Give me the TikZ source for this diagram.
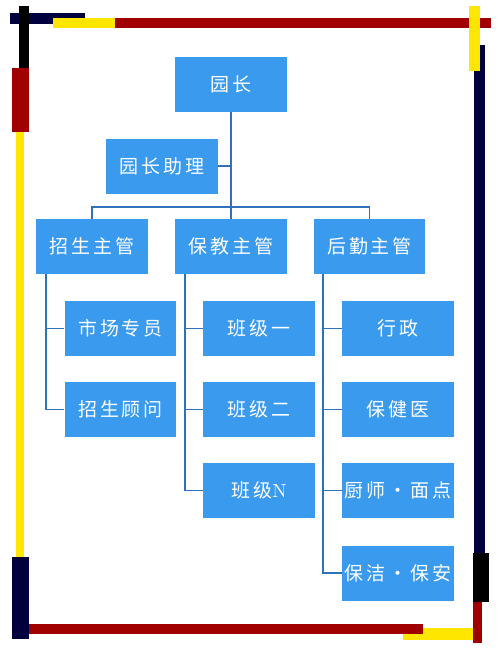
\documentclass[tikz,border=0pt]{standalone}
\usepackage{fontspec}
\newfontfamily\cjk[LetterSpace=15]{Noto Sans CJK SC}
\usetikzlibrary{positioning}
\definecolor{boxblue}{HTML}{3A9AEE}
\definecolor{linkblue}{HTML}{2E72BC}
\definecolor{framered}{HTML}{A00000}
\definecolor{frameyellow}{HTML}{FFE600}
\definecolor{framenavy}{HTML}{00003F}

\begin{document}
\begin{tikzpicture}[x=0.02cm, y=-0.02cm,
		box/.style={fill=boxblue, text=white, inner sep=0pt, minimum width=2.24cm, minimum height=1.1cm, font=\cjk\fontsize{10.8}{13}\selectfont},
		link/.style={draw=linkblue, line width=1.1pt},
		]
		
		\useasboundingbox (0,0) rectangle (500,654);
		
		\fill[framenavy] (10,13) rectangle (85,24);
		\fill[frameyellow] (53,18) rectangle (115,28);
		\fill[framered] (115,18) rectangle (491,28);
		\fill[black] (19,6) rectangle (29,68);
		\fill[framered] (12,68) rectangle (29,132);
		\fill[frameyellow] (16,132) rectangle (24,557);
		\fill[framenavy] (12,557) rectangle (29,639);
		\fill[frameyellow] (403,628) rectangle (473,640);
		\fill[framered] (29,624) rectangle (423,634);
		\fill[framenavy] (474,45) rectangle (485,553);
		\fill[frameyellow] (469,6) rectangle (480,71);
		\fill[black] (473,553) rectangle (489,602);
		\fill[framered] (473,602) rectangle (482,643);
		
		\node[box] (head) at (231,84) {园长};
		\node[box] (assistant) at (162,166) {园长助理};
		\node[box] (enrol) at (92,246.5) {招生主管};
		\node[box] (care) at (231,246.5) {保教主管};
		\node[box] (logistics) at (369.5,246.5) {后勤主管};
		
		\node[box] (market) at (120.5,328.5) {市场专员};
		\node[box] (advisor) at (120.5,409.5) {招生顾问};
		
		\node[box] (class1) at (259,328.5) {班级一};
		\node[box] (class2) at (259,409.5) {班级二};
		\node[box] (classN) at (259,490.5) {班级{\rmfamily N}};
		
		\node[box] (admin) at (398,328.5) {行政};
		\node[box] (doctor) at (398,409.5) {保健医};
		\node[box] (kitchen) at (398,490.5) {厨师•面点};
		\node[box] (security) at (398,573) {保洁•保安};
		
		\draw[link] (head.south) -- (care.north);
		\draw[link] (assistant.east) -- (assistant.east -| head.south);
		\draw[link] (enrol.north) -- ++(0,-12) -| (logistics.north);
		
		\draw[link] ([xshift=0.2cm]enrol.south west) |- (advisor.west);
		\draw[link] ([xshift=0.2cm]enrol.south west) |- (market.west);
		
		\draw[link] ([xshift=0.2cm]care.south west) |- (classN.west);
		\draw[link] ([xshift=0.2cm]care.south west) |- (class2.west);
		\draw[link] ([xshift=0.2cm]care.south west) |- (class1.west);
		
		\draw[link] ([xshift=0.2cm]logistics.south west) |- (security.west);
		\draw[link] ([xshift=0.2cm]logistics.south west) |- (kitchen.west);
		\draw[link] ([xshift=0.2cm]logistics.south west) |- (doctor.west);
		\draw[link] ([xshift=0.2cm]logistics.south west) |- (admin.west);
	\end{tikzpicture}
\end{document}
